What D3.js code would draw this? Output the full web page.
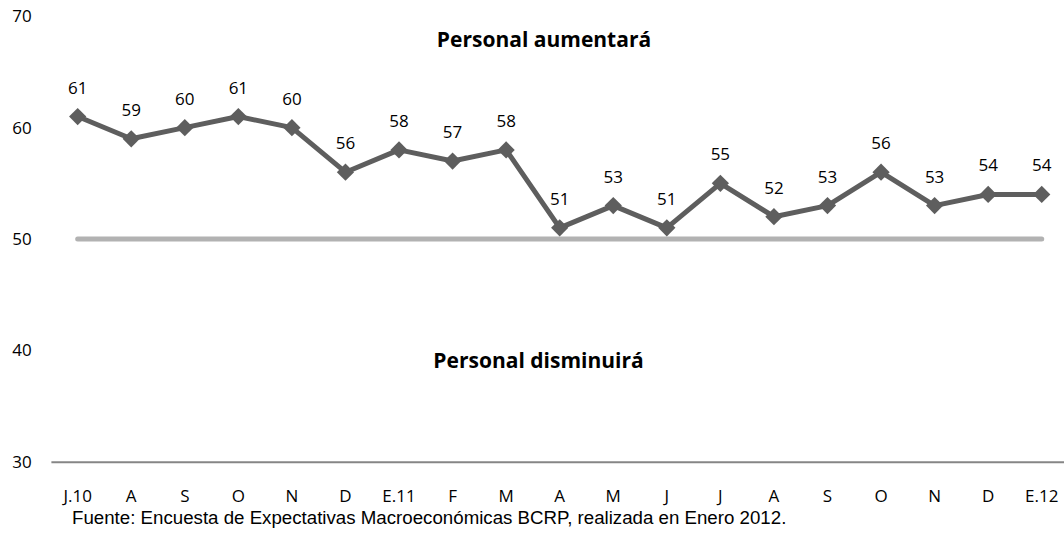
<!DOCTYPE html>
<html><head><meta charset="utf-8">
<script src="https://cdn.jsdelivr.net/npm/d3@7"></script>
<style>body{margin:0;background:#fff}svg{display:block}</style>
</head><body>
<script>
const categories = ["J.10","A","S","O","N","D","E.11","F","M","A","M","J","J","A","S","O","N","D","E.12"];
const values = [61,59,60,61,60,56,58,57,58,51,53,51,55,52,53,56,53,54,54];
const yTicks = [30,40,50,60,70];
const refValue = 50;
const titleUp = "Personal aumentará";
const titleDown = "Personal disminuirá";
const source = "Fuente: Encuesta de Expectativas Macroeconómicas BCRP, realizada en Enero 2012.";

const W = 1064, H = 540;
const svg = d3.select("body").append("svg").attr("width", W).attr("height", H);
const font = "'Open Sans', sans-serif";
const fs = "17px";

const x = d3.scaleBand().domain(d3.range(categories.length)).range([50.9, 1068.5]);
const cx = i => x(i) + x.bandwidth()/2;
const y = d3.scaleLinear().domain([30,70]).range([461.7, 16.3]);

// y tick labels
svg.append("g").selectAll("text").data(yTicks).join("text")
  .attr("x", 22).attr("y", d => y(d)).attr("dy", "0.36em")
  .attr("text-anchor", "middle")
  .style("font-family", font).style("font-size", fs).attr("fill", "#000")
  .text(d => d);

// x axis
const xAxis = d3.axisBottom(x).tickSize(0).tickPadding(28).tickFormat(i => categories[i]);
const gx = svg.append("g").attr("transform", `translate(0,${y(30)})`).call(xAxis);
gx.select(".domain").attr("stroke", "#868686").attr("stroke-width", 2);
gx.selectAll("text").style("font-family", font).style("font-size", fs).attr("fill", "#000");

// reference line
svg.append("line")
  .attr("x1", cx(0)).attr("x2", cx(categories.length-1))
  .attr("y1", y(refValue)).attr("y2", y(refValue))
  .attr("stroke", "#b2b2b2").attr("stroke-width", 5).attr("stroke-linecap", "round");

// series line
const line = d3.line().x((d,i) => cx(i)).y(d => y(d));
svg.append("path").datum(values).attr("d", line)
  .attr("fill", "none").attr("stroke", "#5e5e5e").attr("stroke-width", 5).attr("stroke-linejoin", "round");

// markers
svg.append("g").selectAll("path").data(values).join("path")
  .attr("d", d3.symbol().type(d3.symbolDiamond2).size(190))
  .attr("transform", (d,i) => `translate(${cx(i)},${y(d)})`)
  .attr("fill", "#5e5e5e");

// data labels
svg.append("g").selectAll("text").data(values).join("text")
  .attr("x", (d,i) => cx(i)).attr("y", d => y(d) - 23)
  .attr("text-anchor", "middle")
  .style("font-family", font).style("font-size", fs).attr("fill", "#000")
  .text(d => d);

// titles
svg.append("text").attr("x", 544).attr("y", 47).attr("text-anchor", "middle")
  .style("font-family", font).style("font-size", "21px").style("font-weight", "bold")
  .text(titleUp);
svg.append("text").attr("x", 538.5).attr("y", 368).attr("text-anchor", "middle")
  .style("font-family", font).style("font-size", "21px").style("font-weight", "bold")
  .text(titleDown);

// source
svg.append("text").attr("x", 72).attr("y", 524)
  .style("font-family", "'Liberation Sans', Arial, sans-serif").style("font-size", "18.7px").text(source);
</script>
</body></html>
